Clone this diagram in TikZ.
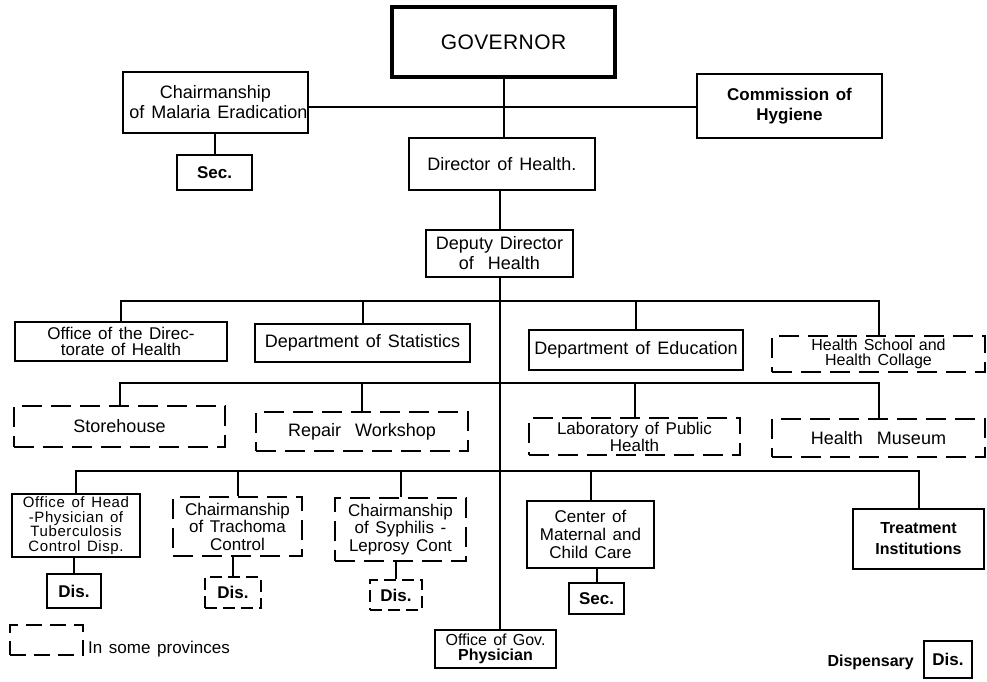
\documentclass[tikz,border=0pt]{standalone}
\usepackage{fontspec}
\setmainfont{Liberation Sans}[WordSpace=1.4]
\begin{document}
\tikzset{
  every node/.style={font=\fontsize{18}{20}\selectfont},
  sbox/.style={draw, line width=2.8pt, align=center},
  dbox/.style={draw, line width=2.5pt, dash pattern=on 20pt off 9pt, align=center},
  conn/.style={line width=2pt},
  tight/.style={font=\fontsize{17}{15.5}\selectfont},
  small4/.style={font=\fontsize{15}{14.5}\selectfont\addfontfeature{LetterSpace=4}},
  small2/.style={font=\fontsize{16}{15}\selectfont},
  bold/.style={font=\bfseries\fontsize{17}{20}\selectfont},
}
\newcommand\bx[7]{%
  \pgfmathsetmacro\bxcx{(#3+#5)/2}%
  \pgfmathsetmacro\bxcy{(#4+#6)/2}%
  \pgfmathsetmacro\bxw{#5-#3}%
  \pgfmathsetmacro\bxh{#6-#4}%
  \node[minimum width=\bxw pt, minimum height=\bxh pt, inner sep=0pt, #2] (#1) at (\bxcx,\bxcy) {#7};}
\begin{tikzpicture}[x=1pt,y=-1pt]
\useasboundingbox (0,0) rectangle (987,682);
% top
\bx{gov}{sbox, line width=4.5pt, font=\fontsize{21}{22}\selectfont\addfontfeature{LetterSpace=2}}{392}{7}{615}{77}{GOVERNOR}
\bx{mal}{sbox}{123}{72}{308}{133}{Chairmanship\\\hspace*{6pt}of Malaria Eradication}
\bx{sec1}{sbox, bold}{177}{155}{252}{190}{Sec.}
\bx{com}{sbox, bold}{697}{74}{882}{138}{Commission of\\Hygiene}
\bx{dir}{sbox}{409}{138}{595}{190}{Director of Health.}
\bx{dep}{sbox}{426}{230}{573}{277}{Deputy Director\\of~~Health}
% row 1
\bx{off}{sbox, tight}{15}{322}{227}{361}{Office of the Direc-\\torate of Health}
\bx{stat}{sbox}{255}{324}{470}{362}{Department of Statistics}
\bx{edu}{sbox}{529}{330}{743}{370}{Department of Education}
\bx{hs}{dbox, small2}{772}{336}{985}{372}{Health School and\\Health Collage}
% row 2
\bx{store}{dbox}{14}{406}{225}{447}{Storehouse}
\bx{rep}{dbox}{256}{412}{468}{451}{Repair~~Workshop}
\bx{lab}{dbox, tight}{529}{418}{740}{455}{Laboratory of Public\\Health}
\bx{mus}{dbox}{772}{419}{985}{457}{Health~~Museum}
% row 3
\bx{ohp}{sbox, small4}{12}{494}{140}{557}{Office of Head\\-Physician of\\Tuberculosis\\Control Disp.}
\bx{tra}{dbox, font=\fontsize{17}{17.5}\selectfont}{173}{497}{302}{556}{Chairmanship\\of Trachoma\\Control}
\bx{syp}{dbox, font=\fontsize{17}{17.5}\selectfont}{335}{498}{466}{561}{Chairmanship\\of Syphilis -\\Leprosy Cont}
\bx{cen}{sbox, font=\fontsize{17}{18}\selectfont}{527}{501}{654}{568}{Center of\\Maternal and\\Child Care}
\bx{tre}{sbox, font=\bfseries\fontsize{16}{21}\selectfont}{853}{509}{984}{569}{Treatment\\Institutions}
\bx{dis1}{sbox, bold}{47}{574}{101}{608}{Dis.}
\bx{dis2}{dbox, dash pattern=on 12pt off 6pt, bold}{205}{577}{261}{608}{Dis.}
\bx{dis3}{dbox, dash pattern=on 12pt off 6pt, bold}{370}{580}{422}{610}{Dis.}
\bx{sec2}{sbox, bold}{569}{583}{624}{614}{Sec.}
\bx{ogp}{sbox, font=\fontsize{16}{15}\selectfont}{435}{630}{556}{668}{Office of Gov.\\\textbf{Physician}}
% legend
\bx{leg}{dbox, dash pattern=on 16pt off 8pt}{10}{625}{83}{655}{}
\node[font=\fontsize{17}{20}\selectfont, anchor=west, inner sep=0pt] (legt) at (88,649) {In some provinces};
\bx{disleg}{sbox, bold}{924}{641}{972}{678}{Dis.}
\node[font=\bfseries\fontsize{16}{20}\selectfont, anchor=east, inner sep=0pt] (dispt) at (914,662) {Dispensary};
% connectors
\draw[conn] (gov.south) -- (gov.south |- dir.north);
\draw[conn] (mal.east |- 0,107) -- (com.west |- 0,107);
\draw[conn] (sec1.north) -- (sec1.north |- mal.south);
\draw[conn] (dep.north) -- (dep.north |- dir.south);
\draw[conn] (dep.south) -- (dep.south |- ogp.north);
\coordinate (b1) at (500,301);
\coordinate (b2) at (500,383);
\coordinate (b3) at (500,471);
\draw[conn] (off.north) |- (b1) -| (hs.north);
\draw[conn] (stat.north) -- (stat.north |- b1);
\draw[conn] (edu.north) -- (edu.north |- b1);
\draw[conn] (store.north) |- (b2) -| (mus.north);
\draw[conn] (rep.north) -- (rep.north |- b2);
\draw[conn] (lab.north) -- (lab.north |- b2);
\draw[conn] (ohp.north) |- (b3) -| (tre.north);
\draw[conn] (tra.north) -- (tra.north |- b3);
\draw[conn] (syp.north) -- (syp.north |- b3);
\draw[conn] (cen.north) -- (cen.north |- b3);
\draw[conn] (dis1.north) -- (dis1.north |- ohp.south);
\draw[conn] (dis2.north) -- (dis2.north |- tra.south);
\draw[conn] (dis3.north) -- (dis3.north |- syp.south);
\draw[conn] (sec2.north) -- (sec2.north |- cen.south);
\end{tikzpicture}
\end{document}
